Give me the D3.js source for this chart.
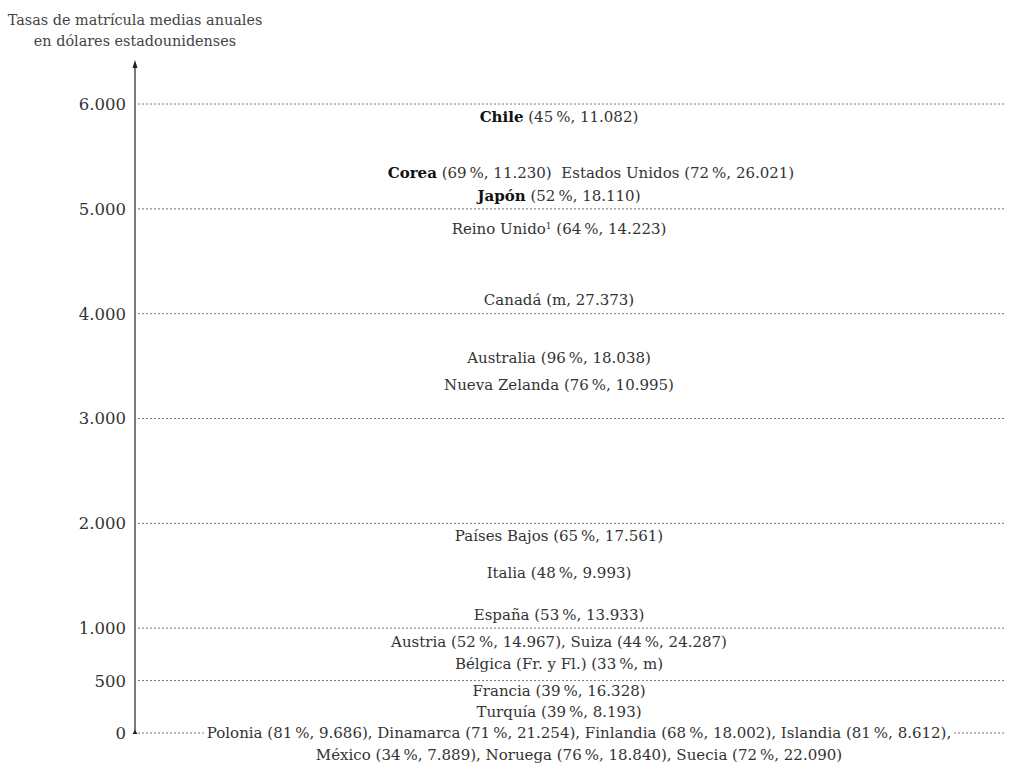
<!DOCTYPE html>
<html><head><meta charset="utf-8">
<script src="https://cdn.jsdelivr.net/npm/d3@7"></script>
<style>body{margin:0;background:#fff}svg{display:block}</style>
</head><body>
<svg id="chart" width="1014" height="763"></svg>
<script>
const tickValues = [0, 500, 1000, 2000, 3000, 4000, 5000, 6000];
const tickLabels = ["0", "500", "1.000", "2.000", "3.000", "4.000", "5.000", "6.000"];
const titleLines = ["Tasas de matrícula medias anuales", "en dólares estadounidenses"];
// each label: value (tuition, USD), parts [text, bold]
const labelValues = [5880, 5350, 5130, 4810, 4130, 3577, 3320, 1880, 1526, 1126, 868, 658, 405, 205, 0];
const labelParts = [
  [["Chile", true], [" (45\u202F%, 11.082)", false]],
  [["Corea", true], [" (69\u202F%, 11.230)\u00A0 Estados Unidos (72\u202F%, 26.021)", false]],
  [["Japón", true], [" (52\u202F%, 18.110)", false]],
  [["Reino Unido", false], ["1", "sup"], [" (64\u202F%, 14.223)", false]],
  [["Canadá (m, 27.373)", false]],
  [["Australia (96\u202F%, 18.038)", false]],
  [["Nueva Zelanda (76\u202F%, 10.995)", false]],
  [["Países Bajos (65\u202F%, 17.561)", false]],
  [["Italia (48\u202F%, 9.993)", false]],
  [["España (53\u202F%, 13.933)", false]],
  [["Austria (52\u202F%, 14.967), Suiza (44\u202F%, 24.287)", false]],
  [["Bélgica (Fr. y Fl.) (33\u202F%, m)", false]],
  [["Francia (39\u202F%, 16.328)", false]],
  [["Turquía (39\u202F%, 8.193)", false]],
  [["Polonia (81\u202F%, 9.686), Dinamarca (71\u202F%, 21.254), Finlandia (68\u202F%, 18.002), Islandia (81\u202F%, 8.612),", false]]
];
const secondLine = "México (34\u202F%, 7.889), Noruega (76\u202F%, 18.840), Suecia (72\u202F%, 22.090)";

const svg = d3.select("#chart");
const font = "'DejaVu Serif', serif";
const axisX = 135, gridRight = 1005;
const y = d3.scaleLinear().domain([0, 6000]).range([733, 104]);

// gridlines
svg.append("g").selectAll("line").data(tickValues).join("line")
  .attr("x1", axisX + 3).attr("x2", gridRight)
  .attr("y1", d => y(d)).attr("y2", d => y(d))
  .attr("stroke", "#777").attr("stroke-width", 1)
  .attr("stroke-dasharray", "2,2");

// tick labels
svg.append("g").selectAll("text").data(tickValues).join("text")
  .attr("x", 126).attr("y", d => y(d)).attr("dy", "0.36em")
  .attr("text-anchor", "end").attr("font-family", font).attr("font-size", 16.5)
  .attr("fill", "#333").text((d, i) => tickLabels[i]);

// axis line with arrow
svg.append("line").attr("x1", axisX).attr("x2", axisX)
  .attr("y1", 66).attr("y2", y(0)).attr("stroke", "#222").attr("stroke-width", 1.2);
svg.append("path").attr("d", `M${axisX},60 L${axisX-2.5},68 L${axisX+2.5},68 Z`).attr("fill", "#222");
svg.append("path").attr("d", `M${axisX},${y(0)-3} L${axisX-2.5},${y(0)+1} L${axisX+2.5},${y(0)+1} Z`).attr("fill", "#222");

// title
svg.append("g").selectAll("text").data(titleLines).join("text")
  .attr("x", axisX).attr("y", (d, i) => 20 + i * 21).attr("dy", "0.35em")
  .attr("text-anchor", "middle").attr("font-family", font).attr("font-size", 14.4)
  .attr("fill", "#444").text(d => d);

// labels
const fs = 15;
const lg = svg.append("g");
labelValues.forEach((v, i) => {
  const cx = i === 1 ? 591 : (v === 0 ? 579 : 559);
  const t = lg.append("text").attr("x", cx).attr("y", y(v)).attr("dy", "0.36em")
    .attr("text-anchor", "middle").attr("font-family", font).attr("font-size", fs)
    .attr("fill", "#333");
  labelParts[i].forEach(p => {
    const ts = t.append("tspan").text(p[0]);
    if (p[1] === true) ts.attr("font-weight", "bold").attr("fill", "#111");
    if (p[1] === "sup") ts.attr("font-size", 9).attr("baseline-shift", "super");
  });
  if (v === 0) {
    const bb = t.node().getBBox();
    lg.insert("rect", "text").attr("x", bb.x - 3).attr("y", bb.y).attr("width", bb.width + 6)
      .attr("height", bb.height).attr("fill", "#fff");
    lg.append("text").attr("x", cx).attr("y", y(v) + 22).attr("dy", "0.36em")
      .attr("text-anchor", "middle").attr("font-family", font).attr("font-size", fs)
      .attr("fill", "#333").text(secondLine);
  }
});
</script>
</body></html>
